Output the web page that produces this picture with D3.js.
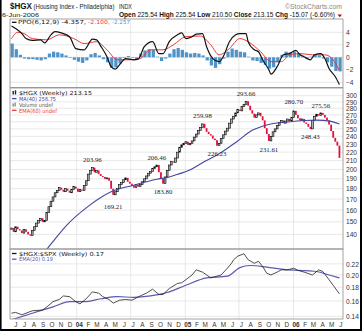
<!DOCTYPE html>
<html><head><meta charset="utf-8">
<script src="https://cdn.jsdelivr.net/npm/d3@7"></script>
<style>body{margin:0;background:#fff}svg{display:block}text{font-family:"Liberation Sans",Arial,sans-serif}</style>
</head><body><svg id="c" width="362" height="331"></svg>
<script>
// ---------- DATA ----------
const firstWeek = "2003-05-26";
const firstOpen = 144;
const closes = [145,142,146,144,143,141,144,142,140,139,
143,146,149,151,153,150,151,158,163,168,
172,176,178,181,179,177,180,178,176,179,
182,180,177,179,178,183,188,195,199,202,
197,199,195,193,192,190,191,188,180,174,
177,180,184,186,189,191,187,185,183,181,
184,182,184,187,190,193,196,198,201,203,
205,197,190,185,192,199,205,209,208,213,
220,226,229,231,233,229,231,234,239,243,
248,252,257,251,246,243,241,237,235,228,
231,237,242,247,251,258,264,268,273,278,
276,283,286,291,284,277,272,266,270,273,
268,262,251,243,234,240,246,250,255,259,
262,258,261,264,261,266,276,270,265,262,
264,259,257,253,250,262,268,271,269,273,
270,266,262,256,247,238,233,228,213.15];

const maWeeks = [14,17,27,36,48,59,70,76,81,85,92,100,109,116,123,133,141,147,154,158];
const maValues = [124,129,148,162,177,183.5,189.5,192,195.5,198.5,207.5,218,234,248,255.5,259.6,261.8,262.3,260.5,256.75];

const labelWeeks = [39,49,70,73,92,99,113,124,136,144,149];
const labelPrices = [203.96,169.21,206.46,183.80,259.98,226.23,293.66,231.61,280.70,248.43,275.56];
const labelBelow = [0,1,0,1,0,1,0,1,0,1,0];

const ppoWeeks = [0,2,5,7,10,14,16,19,21,24,28,31,35,39,41,43,46,48,50,52,55,59,61,64,68,71,73,76,80,82,84,87,89,92,94,97,100,102,105,108,110,113,114,117,119,121,124,125,128,131,134,137,139,141,144,146,149,151,153,156,158];
const ppoValues = [5.0,4.6,3.8,3.0,2.7,2.8,2.3,3.6,4.1,3.9,3.3,1.4,1.2,2.9,2.8,1.8,0.1,-1.5,-1.9,-1.2,-0.2,-0.4,-0.3,1.7,2.5,0.6,0.6,2.5,3.6,3.9,3.0,3.3,3.7,3.8,1.7,-0.2,-0.7,0.1,2.5,3.6,3.8,3.8,2.5,1.2,0.9,-0.4,-2.0,-2.7,-1.5,0.4,0.6,1.1,0.4,0.1,-0.4,0.4,0.6,-0.2,-1.8,-3.1,-4.357];
const sigWeeks = [0,3,6,10,17,23,30,35,41,46,51,56,62,67,73,78,84,91,96,100,105,110,114,120,125,130,134,139,145,151,155,157,158];
const sigValues = [3.0,4.0,3.8,3.0,2.8,3.6,3.0,2.2,2.5,1.2,-0.4,-0.4,-0.2,1.2,1.2,2.0,3.3,3.4,2.0,0.4,1.4,3.0,2.5,0.9,-0.7,-0.7,0.4,0.6,0.4,0.4,-0.4,-1.5,-2.1];
// histogram, one value per two weeks
const histValues = [2.2,1.3,0.4,-0.2,-0.3,-0.3,-0.4,-0.5,-0.3,0.6,
0.9,0.8,0.6,0.3,-0.1,-0.4,-0.7,-0.9,-0.5,0.5,
0.7,0.3,-0.3,-0.8,-1.7,-1.6,-1.0,-0.1,0.2,-0.1,
-0.3,0.6,1.1,1.3,1.2,0.1,-0.6,-0.2,0.6,1.3,
1.5,1.2,0.8,0.6,0.7,0.6,0.3,-0.5,-1.3,-1.7,
-1.1,-0.2,0.9,1.4,1.2,0.9,0.8,0.1,-0.5,-0.6,
-0.9,-1.2,-1.8,-1.6,-0.8,0.4,0.9,0.8,0.9,0.6,
0.1,-0.3,0.1,0.4,0.3,-0.2,-0.8,-1.5,-2.2,-2.257];

const ratioWeeks = [0,2,5,7,10,15,17,20,23,25,28,31,33,36,39,42,44,47,49,52,55,58,62,65,68,71,73,76,80,82,84,87,89,92,94,96,99,101,104,106,107,109,112,114,117,119,121,123,125,128,130,133,136,138,141,145,148,150,153,155,158];
const ratioValues = [0.144,0.145,0.142,0.144,0.147,0.148,0.152,0.159,0.162,0.167,0.166,0.159,0.156,0.163,0.173,0.171,0.166,0.162,0.157,0.161,0.162,0.161,0.167,0.171,0.177,0.169,0.169,0.178,0.186,0.187,0.192,0.200,0.209,0.205,0.200,0.195,0.198,0.200,0.212,0.221,0.228,0.235,0.240,0.228,0.221,0.225,0.215,0.203,0.200,0.205,0.209,0.209,0.212,0.208,0.205,0.200,0.209,0.206,0.192,0.183,0.170];
const remaWeeks = [0,10,20,28,35,43,51,59,67,75,84,94,104,110,115,123,131,139,147,153,158];
const remaValues = [0.136,0.144,0.152,0.159,0.159,0.163,0.166,0.165,0.167,0.172,0.183,0.195,0.198,0.213,0.217,0.214,0.210,0.208,0.206,0.200,0.195];

const priceTicks = [140,150,160,170,180,190,200,210,220,230,240,250,260,270,280,290,300];
const ppoTicks = [4,2,0,-2,-4];
const ratioTicks = [0.14,0.16,0.18,0.20,0.22];
const monthLetters = ["J","F","M","A","M","J","J","A","S","O","N","D"];

// ---------- LAYOUT ----------
const svg = d3.select("#c");
const L = 10, R = 343;
const P1 = {t:19, b:87.5}, P2 = {t:88, b:249}, P3 = {t:249, b:319};
const x = d3.scaleTime().domain([new Date(2003,4,21), new Date(2006,5,17)]).range([L,R]);
const w0 = d3.timeParse("%Y-%m-%d")(firstWeek);
const wx = i => x(d3.timeDay.offset(w0, 7*i));
const yPPO = d3.scaleLinear().domain([-4.83,6.13]).range([P1.b,P1.t]);
const yP = d3.scaleLog().domain([129.2,313]).range([P2.b,P2.t]);
const yR = d3.scaleLog().domain([0.137,0.250]).range([P3.b,P3.t]);

const defs = svg.append("defs");
[["c1",P1],["c2",P2],["c3",P3]].forEach(([id,p])=>{
  defs.append("clipPath").attr("id",id).append("rect").attr("x",L).attr("y",p.t).attr("width",R-L).attr("height",p.b-p.t);
});

const gridCol = "#e2e2e2";
const vDates = d3.timeMonth.every(6).range(new Date(2004,0,1), new Date(2006,5,17));
function grid(p, ys){
  const g = svg.append("g");
  ys.forEach(v=>g.append("line").attr("x1",L).attr("x2",R).attr("y1",v).attr("y2",v).attr("stroke",gridCol).attr("stroke-width",0.8));
  vDates.forEach(d=>g.append("line").attr("x1",x(d)).attr("x2",x(d)).attr("y1",p.t).attr("y2",p.b).attr("stroke",gridCol).attr("stroke-width",0.8));
}
grid(P1, ppoTicks.map(yPPO));
grid(P2, priceTicks.map(yP));
grid(P3, ratioTicks.map(yR));

// ---------- PPO PANEL ----------
const g1 = svg.append("g").attr("clip-path","url(#c1)");
const z = yPPO(0);
histValues.forEach((v,k)=>{
  const xa = wx(2*k)-1.0, xb = wx(2*k+1)+1.0;
  g1.append("rect").attr("x",xa).attr("width",Math.max(0.5,xb-xa-0.8))
    .attr("y",Math.min(z,yPPO(v))).attr("height",Math.abs(yPPO(v)-z))
    .attr("fill","#4f93c8");
});
g1.append("path").datum(sigWeeks.map((w,i)=>[wx(w),yPPO(sigValues[i])]))
  .attr("d",d3.line().curve(d3.curveMonotoneX)).attr("fill","none").attr("stroke","#e8383c").attr("stroke-width",1);
g1.append("path").datum(ppoWeeks.map((w,i)=>[wx(w),yPPO(ppoValues[i])]))
  .attr("d",d3.line().curve(d3.curveMonotoneX)).attr("fill","none").attr("stroke","#111").attr("stroke-width",1.2);

// ---------- PRICE PANEL ----------
const g2 = svg.append("g").attr("clip-path","url(#c2)");
closes.forEach((c,i)=>{
  const o = i===0 ? firstOpen : closes[i-1];
  const up = c >= o;
  const y1 = yP(Math.max(o,c)), y2 = yP(Math.min(o,c));
  const xx = wx(i);
  g2.append("rect").attr("x",xx-0.9).attr("width",1.8)
    .attr("y",y1).attr("height",Math.max(1,y2-y1))
    .attr("fill",up?"#b0b0b0":"#e0103c").attr("stroke",up?"#000":"none").attr("stroke-width",up?0.6:0);
});
g2.append("path").datum(maWeeks.map((w,i)=>[wx(w),yP(maValues[i])]))
  .attr("d",d3.line().curve(d3.curveMonotoneX)).attr("fill","none").attr("stroke","#4646a0").attr("stroke-width",1.1);
labelWeeks.forEach((w,i)=>{
  const yy = yP(labelPrices[i]) + (labelBelow[i] ? 9 : -3.5);
  svg.append("text").attr("x",wx(w)).attr("y",yy).attr("text-anchor","middle")
    .attr("font-size",6.8).attr("fill","#222").style("font-family","'Liberation Serif',serif")
    .text(labelPrices[i].toFixed(2));
});

// ---------- RATIO PANEL ----------
const g3 = svg.append("g").attr("clip-path","url(#c3)");
g3.append("path").datum(remaWeeks.map((w,i)=>[wx(w),yR(remaValues[i])]))
  .attr("d",d3.line().curve(d3.curveMonotoneX)).attr("fill","none").attr("stroke","#5a5ab0").attr("stroke-width",1.2);
g3.append("path").datum(ratioWeeks.map((w,i)=>[wx(w),yR(ratioValues[i])]))
  .attr("d",d3.line()).attr("fill","none").attr("stroke","#222").attr("stroke-width",0.8);

// ---------- FRAMES ----------
[P1,P2,P3].forEach(p=>svg.append("rect").attr("x",L).attr("y",p.t).attr("width",R-L).attr("height",p.b-p.t)
  .attr("fill","none").attr("stroke","#8c8c8c").attr("stroke-width",0.8));

// ---------- AXES (right) ----------
function rightAxis(scale, ticks, fmt){
  const ax = d3.axisRight(scale).tickValues(ticks).tickSize(0).tickPadding(3).tickFormat(fmt);
  const g = svg.append("g").attr("transform",`translate(${R},0)`).call(ax);
  g.select(".domain").remove();
  g.selectAll("text").attr("font-size",6.6).attr("fill","#333").style("font-family","'Liberation Sans',Arial,sans-serif");
}
rightAxis(yPPO, ppoTicks, d3.format("d"));
rightAxis(yP, priceTicks, d3.format("d"));
rightAxis(yR, ratioTicks, d3.format(".2f"));

// ---------- X AXIS (months) ----------
const months = d3.timeMonth.range(new Date(2003,5,1), new Date(2006,6,1));
const xa = d3.axisBottom(x).tickValues(months).tickSize(0).tickPadding(3)
  .tickFormat(d => d.getMonth()===0 ? d3.timeFormat("%y")(d) : monthLetters[d.getMonth()]);
const gx = svg.append("g").attr("transform",`translate(2,${P3.b})`).call(xa);
gx.select(".domain").remove();
gx.selectAll("text").attr("font-size",6.4).attr("fill","#333")
  .attr("font-weight",d=>d.getMonth()===0?"bold":"normal").style("font-family","'Liberation Sans',Arial,sans-serif");

// ---------- HEADER ----------
function txt(s,xx,yy,opts){
  const t = svg.append("text").attr("x",xx).attr("y",yy).text(s);
  Object.entries(opts||{}).forEach(([k,v])=>t.attr(k,v));
  return t;
}
txt("$HGX",10,9,{"font-size":9,"font-weight":"bold","fill":"#111","textLength":22,"lengthAdjust":"spacingAndGlyphs"});
txt("(Housing Index - Philadelphia)",33.5,8.5,{"font-size":6.3,"fill":"#222","textLength":81,"lengthAdjust":"spacingAndGlyphs"});
txt("INDX",119,8.5,{"font-size":6.3,"fill":"#222","textLength":13,"lengthAdjust":"spacingAndGlyphs"});
txt("©StockCharts.com",285,8.5,{"font-size":6.3,"fill":"#888","textLength":57,"lengthAdjust":"spacingAndGlyphs"});
txt("6-Jun-2006",2,17,{"font-size":6.2,"fill":"#222","textLength":37,"lengthAdjust":"spacingAndGlyphs"});
const hd = svg.append("text").attr("x",119).attr("y",17.2).attr("font-size",6.3).attr("fill","#111")
  .attr("textLength",216).attr("lengthAdjust","spacingAndGlyphs");
[["Open ",1],["225.54 ",0],["High ",1],["225.54 ",0],["Low ",1],["210.50 ",0],["Close ",1],["213.15 ",0],["Chg ",1],["-15.07 (-6.60%) ",0]]
  .forEach(([s,b])=>hd.append("tspan").attr("font-weight",b?"bold":"normal").text(s));
svg.append("path").attr("d","M337.5,14.6 L342,14.6 L339.75,17.3 Z").attr("fill","#c00");

// ---------- LEGENDS ----------
const lf = "'DejaVu Sans',sans-serif";
function dash(x0,yy,col){ svg.append("line").attr("x1",x0).attr("x2",x0+4.5).attr("y1",yy).attr("y2",yy).attr("stroke",col).attr("stroke-width",1.3); }
function leg(s,xx,yy,col,len){ return svg.append("text").attr("x",xx).attr("y",yy).attr("font-size",5.6).attr("fill",col).style("font-family",lf)
  .attr("textLength",len).attr("lengthAdjust","spacingAndGlyphs").text(s); }
dash(12,22.3,"#111");
leg("PPO(6,12,9) -4.357,",18,24.2,"#111",68);
leg("-2.100,",88,24.2,"#e8383c",22);
leg("-2.257",112,24.2,"#4f93c8",18);

// price legend
svg.append("rect").attr("x",12.5).attr("y",91).attr("width",1.4).attr("height",3.5).attr("fill","#222");
svg.append("rect").attr("x",14.8).attr("y",90.3).attr("width",1.4).attr("height",4.2).attr("fill","#222");
leg("$HGX (Weekly) 213.15",19,95.2,"#111",73);
dash(12,98.6,"#4646a0");
leg("MA(40) 256.75",19,100.9,"#4646a0",37);
svg.append("rect").attr("x",12.5).attr("y",103.5).attr("width",1.2).attr("height",3).attr("fill","#777");
svg.append("rect").attr("x",14.5).attr("y",102.5).attr("width",1.2).attr("height",4).attr("fill","#777");
leg("Volume undef",19,106.7,"#555",34);
dash(12,110.3,"#e8383c");
leg("EMA(60) undef",19,112.5,"#e8383c",38);

// ratio legend
dash(12,253.5,"#111");
leg("$HGX:$SPX (Weekly) 0.17",19,255.6,"#111",85);
dash(12,259.2,"#5a5ab0");
leg("EMA(20) 0.19",19,261.3,"#5a5ab0",34);

// ---------- OUTER BORDER ----------
svg.append("line").attr("x1",0.8).attr("x2",0.8).attr("y1",0).attr("y2",331).attr("stroke","#000").attr("stroke-width",1.6);
svg.append("line").attr("x1",361).attr("x2",361).attr("y1",0).attr("y2",331).attr("stroke","#000").attr("stroke-width",2);
svg.append("line").attr("x1",0).attr("x2",362).attr("y1",330).attr("y2",330).attr("stroke","#000").attr("stroke-width",2.2);
</script></body></html>
